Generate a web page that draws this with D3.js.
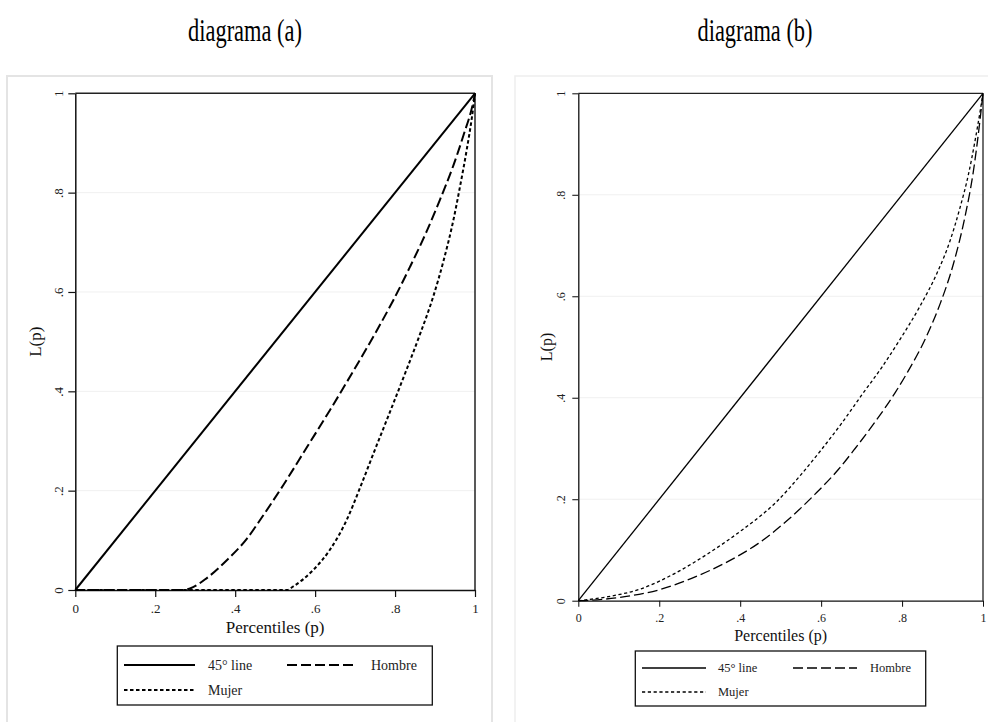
<!DOCTYPE html>
<html>
<head>
<meta charset="utf-8">
<script src="https://cdn.jsdelivr.net/npm/d3@7"></script>
<style>
  html, body { margin: 0; padding: 0; background: #fff; }
  svg { display: block; }
  text { font-family: "Liberation Serif", "DejaVu Serif", serif; fill: #111; }
</style>
</head>
<body>
<div id="chart"></div>
<script>
// ---------------- DATA ----------------
const panelTitles = ["diagrama (a)", "diagrama (b)"];
const xAxisTitle = "Percentiles (p)";
const yAxisTitle = "L(p)";
const tickValues = [0, 0.2, 0.4, 0.6, 0.8, 1];
const tickLabels = ["0", ".2", ".4", ".6", ".8", "1"];
const seriesNames = ["45° line", "Hombre", "Mujer"];

const line45_p = [0, 1];
const line45_L = [0, 1];

// diagrama (a)
const hombreA_p = [0, 0.27, 0.287, 0.329, 0.379, 0.429, 0.470, 0.521, 0.579, 0.637, 0.692, 0.754, 0.796, 0.837, 0.879, 0.912, 0.946, 0.971, 0.996, 1];
const hombreA_L = [0, 0, 0.003, 0.024, 0.060, 0.103, 0.150, 0.212, 0.287, 0.362, 0.436, 0.522, 0.584, 0.650, 0.722, 0.785, 0.855, 0.915, 0.984, 1];
const mujerA_p = [0, 0.53, 0.545, 0.595, 0.637, 0.679, 0.712, 0.746, 0.787, 0.827, 0.862, 0.896, 0.921, 0.946, 0.962, 0.979, 0.992, 1];
const mujerA_L = [0, 0, 0.007, 0.040, 0.081, 0.141, 0.205, 0.275, 0.358, 0.440, 0.514, 0.592, 0.662, 0.745, 0.810, 0.885, 0.950, 1];

// diagrama (b)
const hombreB_p = [0, 0.033, 0.115, 0.198, 0.280, 0.362, 0.445, 0.519, 0.585, 0.642, 0.684, 0.733, 0.783, 0.811, 0.861, 0.894, 0.927, 0.955, 0.976, 0.993, 1];
const hombreB_L = [0, 0.001, 0.008, 0.021, 0.044, 0.074, 0.113, 0.160, 0.210, 0.258, 0.300, 0.352, 0.410, 0.447, 0.522, 0.585, 0.664, 0.755, 0.845, 0.950, 1];
const mujerB_p = [0, 0.074, 0.157, 0.239, 0.321, 0.404, 0.486, 0.552, 0.601, 0.651, 0.700, 0.750, 0.795, 0.844, 0.886, 0.918, 0.943, 0.964, 0.980, 0.993, 1];
const mujerB_L = [0, 0.008, 0.024, 0.054, 0.093, 0.139, 0.192, 0.250, 0.298, 0.350, 0.405, 0.460, 0.515, 0.580, 0.645, 0.708, 0.774, 0.840, 0.905, 0.965, 1];

// ---------------- LAYOUT / STYLE ----------------
const W = 988, H = 722;
const zip = (ps, ls) => ps.map((p, i) => ({ p: p, L: ls[i] }));

const panels = [
  {
    title: panelTitles[0], titleX: 245, titleY: 41, titleSize: 31, titleLen: 114,
    frame: { x: 7, y: 76, w: 485, h: 680, stroke: "#e4e4e4", sw: 2 },
    left: 75.3, top: 93.3, right: 475, bottom: 590,
    tickLen: 7, tickSize: 13, xLabelY: 613, yLabelX: 58,
    axisTitleSize: 17, xTitleY: 633, yTitleX: 35,
    lw: 2, axisW: 1.5, dash: "10,4", dot: "3.5,2.5",
    series: [
      { data: zip(line45_p, line45_L), style: "solid" },
      { data: zip(hombreA_p, hombreA_L), style: "dash" },
      { data: zip(mujerA_p, mujerA_L), style: "dot" }
    ],
    legend: { x: 117.3, y: 646, w: 315, h: 59, row1: 665, row2: 690,
              s1: 124, s2: 195, t1: 208, d1: 287, d2: 355, t2: 371, size: 14 }
  },
  {
    title: panelTitles[1], titleX: 755, titleY: 41, titleSize: 31, titleLen: 115,
    frame: { x: 515, y: 76, w: 490, h: 680, stroke: "#eeeeee", sw: 1.5 },
    left: 578.3, top: 93.3, right: 983, bottom: 600.7,
    tickLen: 6, tickSize: 12, xLabelY: 622, yLabelX: 561,
    axisTitleSize: 16, xTitleY: 641, yTitleX: 546,
    lw: 1.3, axisW: 1.3, dash: "10,4", dot: "3.2,2.6",
    series: [
      { data: zip(line45_p, line45_L), style: "solid" },
      { data: zip(hombreB_p, hombreB_L), style: "dash" },
      { data: zip(mujerB_p, mujerB_L), style: "dot" }
    ],
    legend: { x: 635.3, y: 651, w: 290.4, h: 55, row1: 668, row2: 692,
              s1: 642, s2: 706, t1: 718, d1: 793, d2: 857, t2: 870, size: 12.5 }
  }
];

const svg = d3.select("#chart").append("svg")
  .attr("width", W).attr("height", H);
svg.append("rect").attr("width", W).attr("height", H).attr("fill", "#fff");

function dashFor(cfg, style) {
  if (style === "dash") return cfg.dash;
  if (style === "dot") return cfg.dot;
  return null;
}

panels.forEach(cfg => {
  const g = svg.append("g");

  // outer frame
  g.append("rect")
    .attr("x", cfg.frame.x).attr("y", cfg.frame.y)
    .attr("width", cfg.frame.w).attr("height", cfg.frame.h)
    .attr("fill", "none").attr("stroke", cfg.frame.stroke).attr("stroke-width", cfg.frame.sw);

  // title (condensed serif)
  g.append("text")
    .attr("x", cfg.titleX).attr("y", cfg.titleY)
    .attr("text-anchor", "middle")
    .attr("textLength", cfg.titleLen)
    .attr("lengthAdjust", "spacingAndGlyphs")
    .style("font-family", "'Liberation Serif', serif")
    .style("font-size", cfg.titleSize + "px")
    .style("fill", "#000")
    .text(cfg.title);

  const x = d3.scaleLinear().domain([0, 1]).range([cfg.left, cfg.right]);
  const y = d3.scaleLinear().domain([0, 1]).range([cfg.bottom, cfg.top]);

  // gridlines
  g.append("g").selectAll("line")
    .data(tickValues.filter(v => v > 0 && v < 1))
    .join("line")
    .attr("x1", cfg.left).attr("x2", cfg.right)
    .attr("y1", d => y(d)).attr("y2", d => y(d))
    .attr("stroke", "#f0f0f0").attr("stroke-width", 1);

  // box top/right
  g.append("line").attr("x1", cfg.left).attr("x2", cfg.right)
    .attr("y1", cfg.top).attr("y2", cfg.top)
    .attr("stroke", "#222").attr("stroke-width", cfg.axisW);
  g.append("line").attr("x1", cfg.right).attr("x2", cfg.right)
    .attr("y1", cfg.top).attr("y2", cfg.bottom)
    .attr("stroke", "#222").attr("stroke-width", cfg.axisW);

  // x axis
  const xAxis = d3.axisBottom(x).tickValues(tickValues)
    .tickFormat((d, i) => tickLabels[i]).tickSize(cfg.tickLen).tickSizeOuter(0);
  const xg = g.append("g").attr("transform", `translate(0,${cfg.bottom})`).call(xAxis);
  xg.select(".domain").attr("stroke", "#111").attr("stroke-width", cfg.axisW);
  xg.selectAll(".tick line").attr("stroke", "#111").attr("stroke-width", cfg.axisW * 0.8);
  xg.selectAll(".tick text")
    .attr("y", cfg.xLabelY - cfg.bottom).attr("dy", null)
    .style("font-family", "'Liberation Serif', serif")
    .style("font-size", cfg.tickSize + "px").style("fill", "#222");

  // y axis
  const yAxis = d3.axisLeft(y).tickValues(tickValues)
    .tickFormat((d, i) => tickLabels[i]).tickSize(cfg.tickLen).tickSizeOuter(0);
  const yg = g.append("g").attr("transform", `translate(${cfg.left},0)`).call(yAxis);
  yg.select(".domain").attr("stroke", "#111").attr("stroke-width", cfg.axisW);
  yg.selectAll(".tick line").attr("stroke", "#111").attr("stroke-width", cfg.axisW * 0.8);
  yg.selectAll(".tick text")
    .attr("x", null)
    .attr("text-anchor", "middle")
    .attr("transform", `translate(${cfg.yLabelX - cfg.left},0) rotate(-90)`)
    .attr("dy", "0.35em")
    .style("font-family", "'Liberation Serif', serif")
    .style("font-size", cfg.tickSize + "px").style("fill", "#222");

  // axis titles
  g.append("text")
    .attr("x", (cfg.left + cfg.right) / 2).attr("y", cfg.xTitleY)
    .attr("text-anchor", "middle")
    .style("font-size", cfg.axisTitleSize + "px")
    .text(xAxisTitle);
  g.append("text")
    .attr("transform", `translate(${cfg.yTitleX},${(cfg.top + cfg.bottom) / 2}) rotate(-90)`)
    .attr("text-anchor", "middle").attr("dy", "0.35em")
    .style("font-size", cfg.axisTitleSize + "px")
    .text(yAxisTitle);

  // series
  const line = d3.line().x(d => x(d.p)).y(d => y(d.L)).curve(d3.curveMonotoneX);
  cfg.series.forEach(s => {
    g.append("path")
      .datum(s.data)
      .attr("d", line)
      .attr("fill", "none")
      .attr("stroke", "#000")
      .attr("stroke-width", cfg.lw)
      .attr("stroke-dasharray", dashFor(cfg, s.style));
  });

  // legend
  const lg = cfg.legend;
  g.append("rect")
    .attr("x", lg.x).attr("y", lg.y).attr("width", lg.w).attr("height", lg.h)
    .attr("fill", "#fff").attr("stroke", "#111").attr("stroke-width", 1.3);
  const items = [
    { name: seriesNames[0], style: "solid", x1: lg.s1, x2: lg.s2, tx: lg.t1, yy: lg.row1 },
    { name: seriesNames[1], style: "dash", x1: lg.d1, x2: lg.d2, tx: lg.t2, yy: lg.row1 },
    { name: seriesNames[2], style: "dot", x1: lg.s1, x2: lg.s2, tx: lg.t1, yy: lg.row2 }
  ];
  items.forEach(it => {
    g.append("line")
      .attr("x1", it.x1).attr("x2", it.x2).attr("y1", it.yy).attr("y2", it.yy)
      .attr("stroke", "#000").attr("stroke-width", cfg.lw)
      .attr("stroke-dasharray", dashFor(cfg, it.style));
    g.append("text")
      .attr("x", it.tx).attr("y", it.yy).attr("dy", "0.33em")
      .style("font-size", lg.size + "px").style("fill", "#222")
      .text(it.name);
  });
});
</script>
</body>
</html>
